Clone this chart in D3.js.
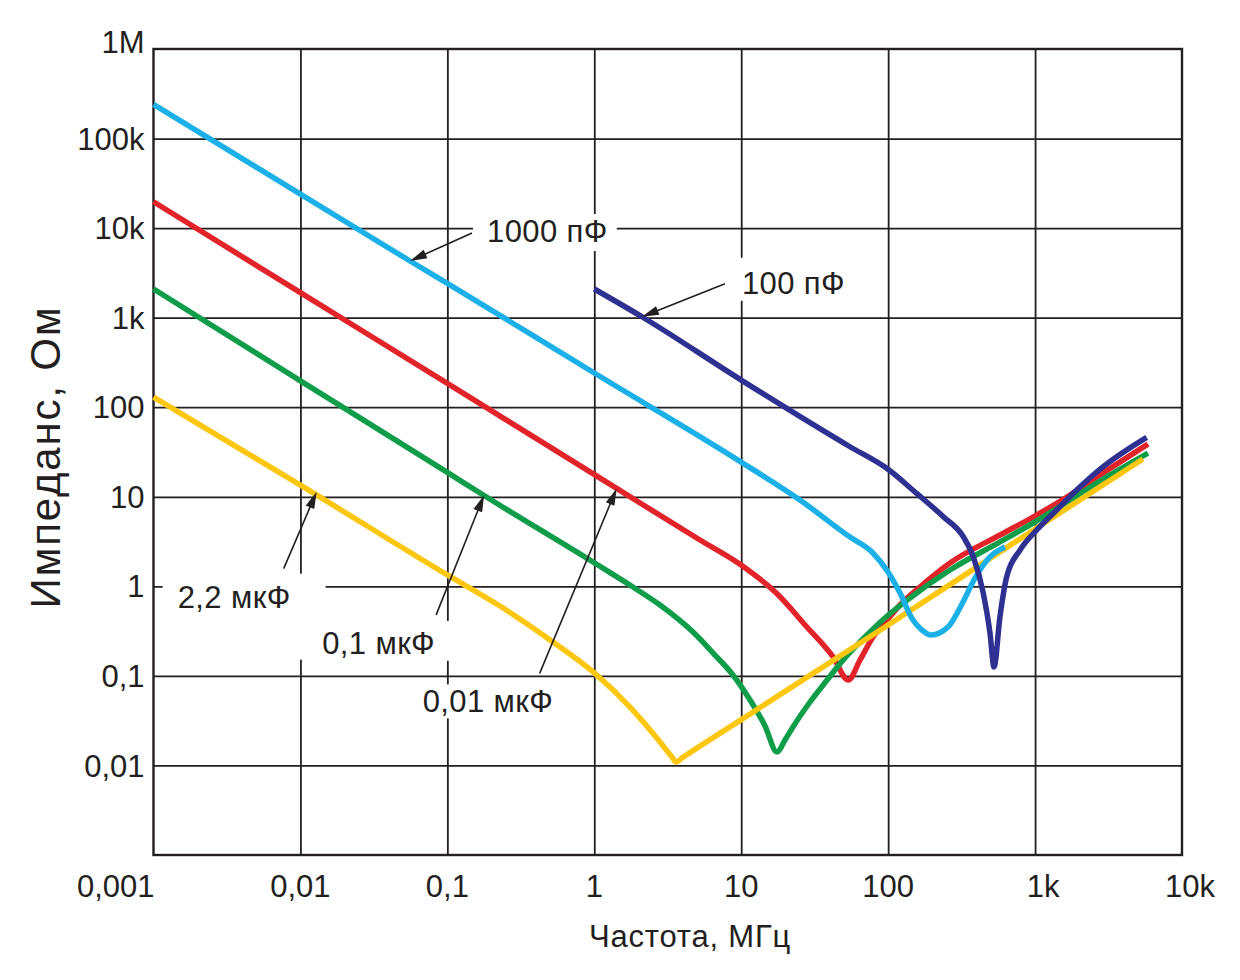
<!DOCTYPE html>
<html><head><meta charset="utf-8">
<script src="https://cdn.jsdelivr.net/npm/d3@7"></script>
<style>
html,body{margin:0;padding:0;background:#fff;}
svg text{font-family:"Liberation Sans",Arial,Helvetica,sans-serif;fill:#231f20;}
</style></head><body>
<svg id="chart" width="1240" height="980"></svg>
<script>
// ---------- DATA ----------
const xTickValues = [0.001, 0.01, 0.1, 1, 10, 100, 1000, 10000];
const xTickLabels = ["0,001", "0,01", "0,1", "1", "10", "100", "1k", "10k"];
const yTickValues = [0.01, 0.1, 1, 10, 100, 1000, 10000, 100000, 1000000];
const yTickLabels = ["0,01", "0,1", "1", "10", "100", "1k", "10k", "100k", "1M"];
const xTitle = "Частота, МГц";
const yTitle = "Импеданс, Ом";

// 0,01 мкФ (red)
const freq001uF = [0.001, 0.01, 0.1, 1.42, 5.24, 9.81, 17.4, 27.9, 42.1, 53.6, 64.3, 78.9, 98.2, 120.4, 164.7, 263.6, 576.9, 968, 1649, 2766, 5870];
const imp001uF  = [19700, 1900, 185, 12.4, 3.29, 1.76, 0.836, 0.354, 0.164, 0.0899, 0.150, 0.272, 0.42, 0.619, 0.983, 1.82, 3.74, 5.94, 9.94, 17.5, 38.8];
// 0,1 мкФ (green)
const freq01uF = [0.001, 0.01, 0.1, 0.18, 0.98, 1.834, 2.8, 4.7, 6.63, 8.79, 11.48, 14.52, 17.5, 19.86, 22.5, 29.4, 38.4, 49.3, 64.3, 96.7, 140.8, 263.6, 576.9, 968, 1649, 2766, 5870];
const imp01uF  = [2090, 197, 18.7, 10.2, 1.87, 0.983, 0.619, 0.309, 0.171, 0.1023, 0.0538, 0.0276, 0.0141, 0.0192, 0.0269, 0.0511, 0.0899, 0.150, 0.239, 0.454, 0.741, 1.52, 3.13, 5.09, 8.74, 15.0, 30.8];
// 2,2 мкФ (yellow)
const freq22uF = [0.001, 0.01, 0.1, 0.228, 0.5, 1.0, 1.75, 2.63, 3.38, 3.6, 3.95, 9.66, 100, 1000, 5425];
const imp22uF  = [130, 13.5, 1.34, 0.603, 0.252, 0.108, 0.0449, 0.0208, 0.0124, 0.0109, 0.0121, 0.0313, 0.37, 4.37, 26.4];
// 1000 пФ (light blue)
const freq1000pF = [0.001, 0.01, 0.0557, 0.1, 1, 10, 25.1, 55, 77.6, 99.8, 120.4, 147.6, 170, 195.6, 255.5, 318.2, 390, 493.4, 624];
const imp1000pF  = [241000, 24000, 4290, 2410, 241, 24.4, 9.2, 3.55, 2.42, 1.445, 0.842, 0.42, 0.325, 0.286, 0.351, 0.635, 1.238, 2.13, 2.75];
// 100 пФ (dark blue)
const freq100pF = [1, 2.11, 10, 55.0, 97.8, 156.4, 237.4, 324.7, 379.8, 444.2, 493.4, 525.4, 576.9, 641, 789.6, 1026, 1403, 1920, 2913, 5750];
const imp100pF  = [2090, 1024, 201, 36.2, 20.8, 10.9, 5.99, 3.58, 2.14, 0.836, 0.301, 0.1257, 0.458, 1.28, 2.54, 4.26, 7.12, 11.9, 21.7, 46.1];

// annotations (tip of arrow in data units)
const annoLabels = ["1000 пФ", "100 пФ", "2,2 мкФ", "0,1 мкФ", "0,01 мкФ"];
const annoTipFreq = [0.0557, 2.11, 0.0129, 0.178, 1.42];
const annoTipImp  = [4290, 1024, 11.4, 10.5, 12.4];

// ---------- LAYOUT / STYLE ----------
const plotLeft = 153.5, plotRight = 1182, plotTop = 49, plotBottom = 855;
const ink = "#231f20";
const seriesStyle = [
  {f: freq001uF, z: imp001uF, color: "#e3232a"},
  {f: freq01uF, z: imp01uF, color: "#0f9d4a"},
  {f: freq22uF, z: imp22uF, color: "#fdc70f"},
  {f: freq1000pF, z: imp1000pF, color: "#1cb0e8"},
  {f: freq100pF, z: imp100pF, color: "#2e3192"}
];
// arrow tail offsets, label offsets relative to tip (px), knockout padding [l,t,r,b]
const annoLayout = [
  {tail: [62, -28], label: [77, -19], pad: [14, 6, 9, 9]},
  {tail: [83, -33], label: [100, -23], pad: [9, 14, 9, 7]},
  {tail: [-33, 77], label: [-139, 116], pad: [15, 12, 35, 52]},
  {tail: [-48, 120], label: [-162, 159], pad: [12, 11, 14, 7]},
  {tail: [-77, 185], label: [-194, 224], pad: [12, 6, 12, 6]}
];

const x = d3.scaleLog().domain([0.001, 10000]).range([plotLeft, plotRight]);
const y = d3.scaleLog().domain([0.001, 1e6]).range([plotBottom, plotTop]);

const svg = d3.select("#chart");
svg.append("rect").attr("width", 1240).attr("height", 980).attr("fill", "#fff");

// grid lines via axes
const xGrid = xTickValues.filter(v => v > 0.001 && v < 10000);
const yGrid = yTickValues.filter(v => v < 1e6);
const gxg = svg.append("g").attr("transform", `translate(0,${plotBottom})`)
  .call(d3.axisBottom(x).tickValues(xGrid).tickSize(-(plotBottom - plotTop)).tickFormat(""));
gxg.select(".domain").remove();
gxg.selectAll(".tick line").attr("stroke", ink).attr("stroke-width", 1.8);
const gyg = svg.append("g").attr("transform", `translate(${plotLeft},0)`)
  .call(d3.axisLeft(y).tickValues(yGrid).tickSize(-(plotRight - plotLeft)).tickFormat(""));
gyg.select(".domain").remove();
gyg.selectAll(".tick line").attr("stroke", ink).attr("stroke-width", 1.8);

const knockG = svg.append("g");
// frame
svg.append("rect").attr("x", plotLeft).attr("y", plotTop)
  .attr("width", plotRight - plotLeft).attr("height", plotBottom - plotTop)
  .attr("fill", "none").attr("stroke", ink).attr("stroke-width", 2.4);

// curves
const line = d3.line().x(d => x(d[0])).y(d => y(d[1])).curve(d3.curveMonotoneX);
const curveG = svg.append("g");
seriesStyle.forEach(s => {
  const pts = s.f.map((f, i) => [f, s.z[i]]);
  curveG.append("path").attr("d", line(pts)).attr("fill", "none")
    .attr("stroke", s.color).attr("stroke-width", 5.5)
    .attr("stroke-linejoin", "round").attr("stroke-linecap", "butt");
});

// tick labels
const tickFont = 31;
svg.append("g").selectAll("text").data(yTickValues).join("text")
  .attr("x", plotLeft - 9)
  .attr("y", (d) => y(d) + (d === 1e6 ? -7 : 0))
  .attr("dy", "0.36em").attr("text-anchor", "end")
  .attr("font-size", tickFont)
  .text((d, i) => yTickLabels[i]);
svg.append("g").selectAll("text").data(xTickValues).join("text")
  .attr("x", (d, i) => i === 0 ? x(d) + 1 : x(d) + (xTickLabels[i].endsWith("k") ? 8 : 0))
  .attr("y", plotBottom + 42)
  .attr("text-anchor", (d, i) => i === 0 ? "end" : "middle")
  .attr("font-size", tickFont)
  .text((d, i) => xTickLabels[i]);

// axis titles
svg.append("text").attr("x", 690).attr("y", 947).attr("text-anchor", "middle")
  .attr("font-size", 31).attr("letter-spacing", 0.8).text(xTitle);
svg.append("text").attr("transform", "translate(60,457) rotate(-90)")
  .attr("text-anchor", "middle").attr("font-size", 42).attr("letter-spacing", 1.8).text(yTitle);

// annotations
const annoG = svg.append("g");
annoLabels.forEach((lab, i) => {
  const tx = x(annoTipFreq[i]), ty = y(annoTipImp[i]);
  const L = annoLayout[i];
  const bx0 = tx + L.label[0], by0 = ty + L.label[1];
  const t = annoG.append("text").attr("x", bx0).attr("y", by0)
    .attr("font-size", 31).attr("letter-spacing", 0.4).text(lab);
  const bb = t.node().getBBox();
  const capTop = by0 - 22;
  knockG.append("rect").attr("x", bb.x - L.pad[0]).attr("y", capTop - L.pad[1])
    .attr("width", bb.width + L.pad[0] + L.pad[2])
    .attr("height", 22 + L.pad[1] + L.pad[3]).attr("fill", "#fff");
  const sx = tx + L.tail[0], sy = ty + L.tail[1];
  const dx = tx - sx, dy = ty - sy, len = Math.hypot(dx, dy);
  const ux = dx / len, uy = dy / len, nx = -uy, ny = ux;
  const hl = 17, hw = 4.6;
  const bx = tx - ux * hl, by = ty - uy * hl;
  annoG.append("line").attr("x1", sx).attr("y1", sy).attr("x2", bx + ux * 2).attr("y2", by + uy * 2)
    .attr("stroke", ink).attr("stroke-width", 1.6);
  annoG.append("polygon")
    .attr("points", `${tx},${ty} ${bx + nx * hw},${by + ny * hw} ${bx - nx * hw},${by - ny * hw}`)
    .attr("fill", ink);
});
</script>
</body></html>
